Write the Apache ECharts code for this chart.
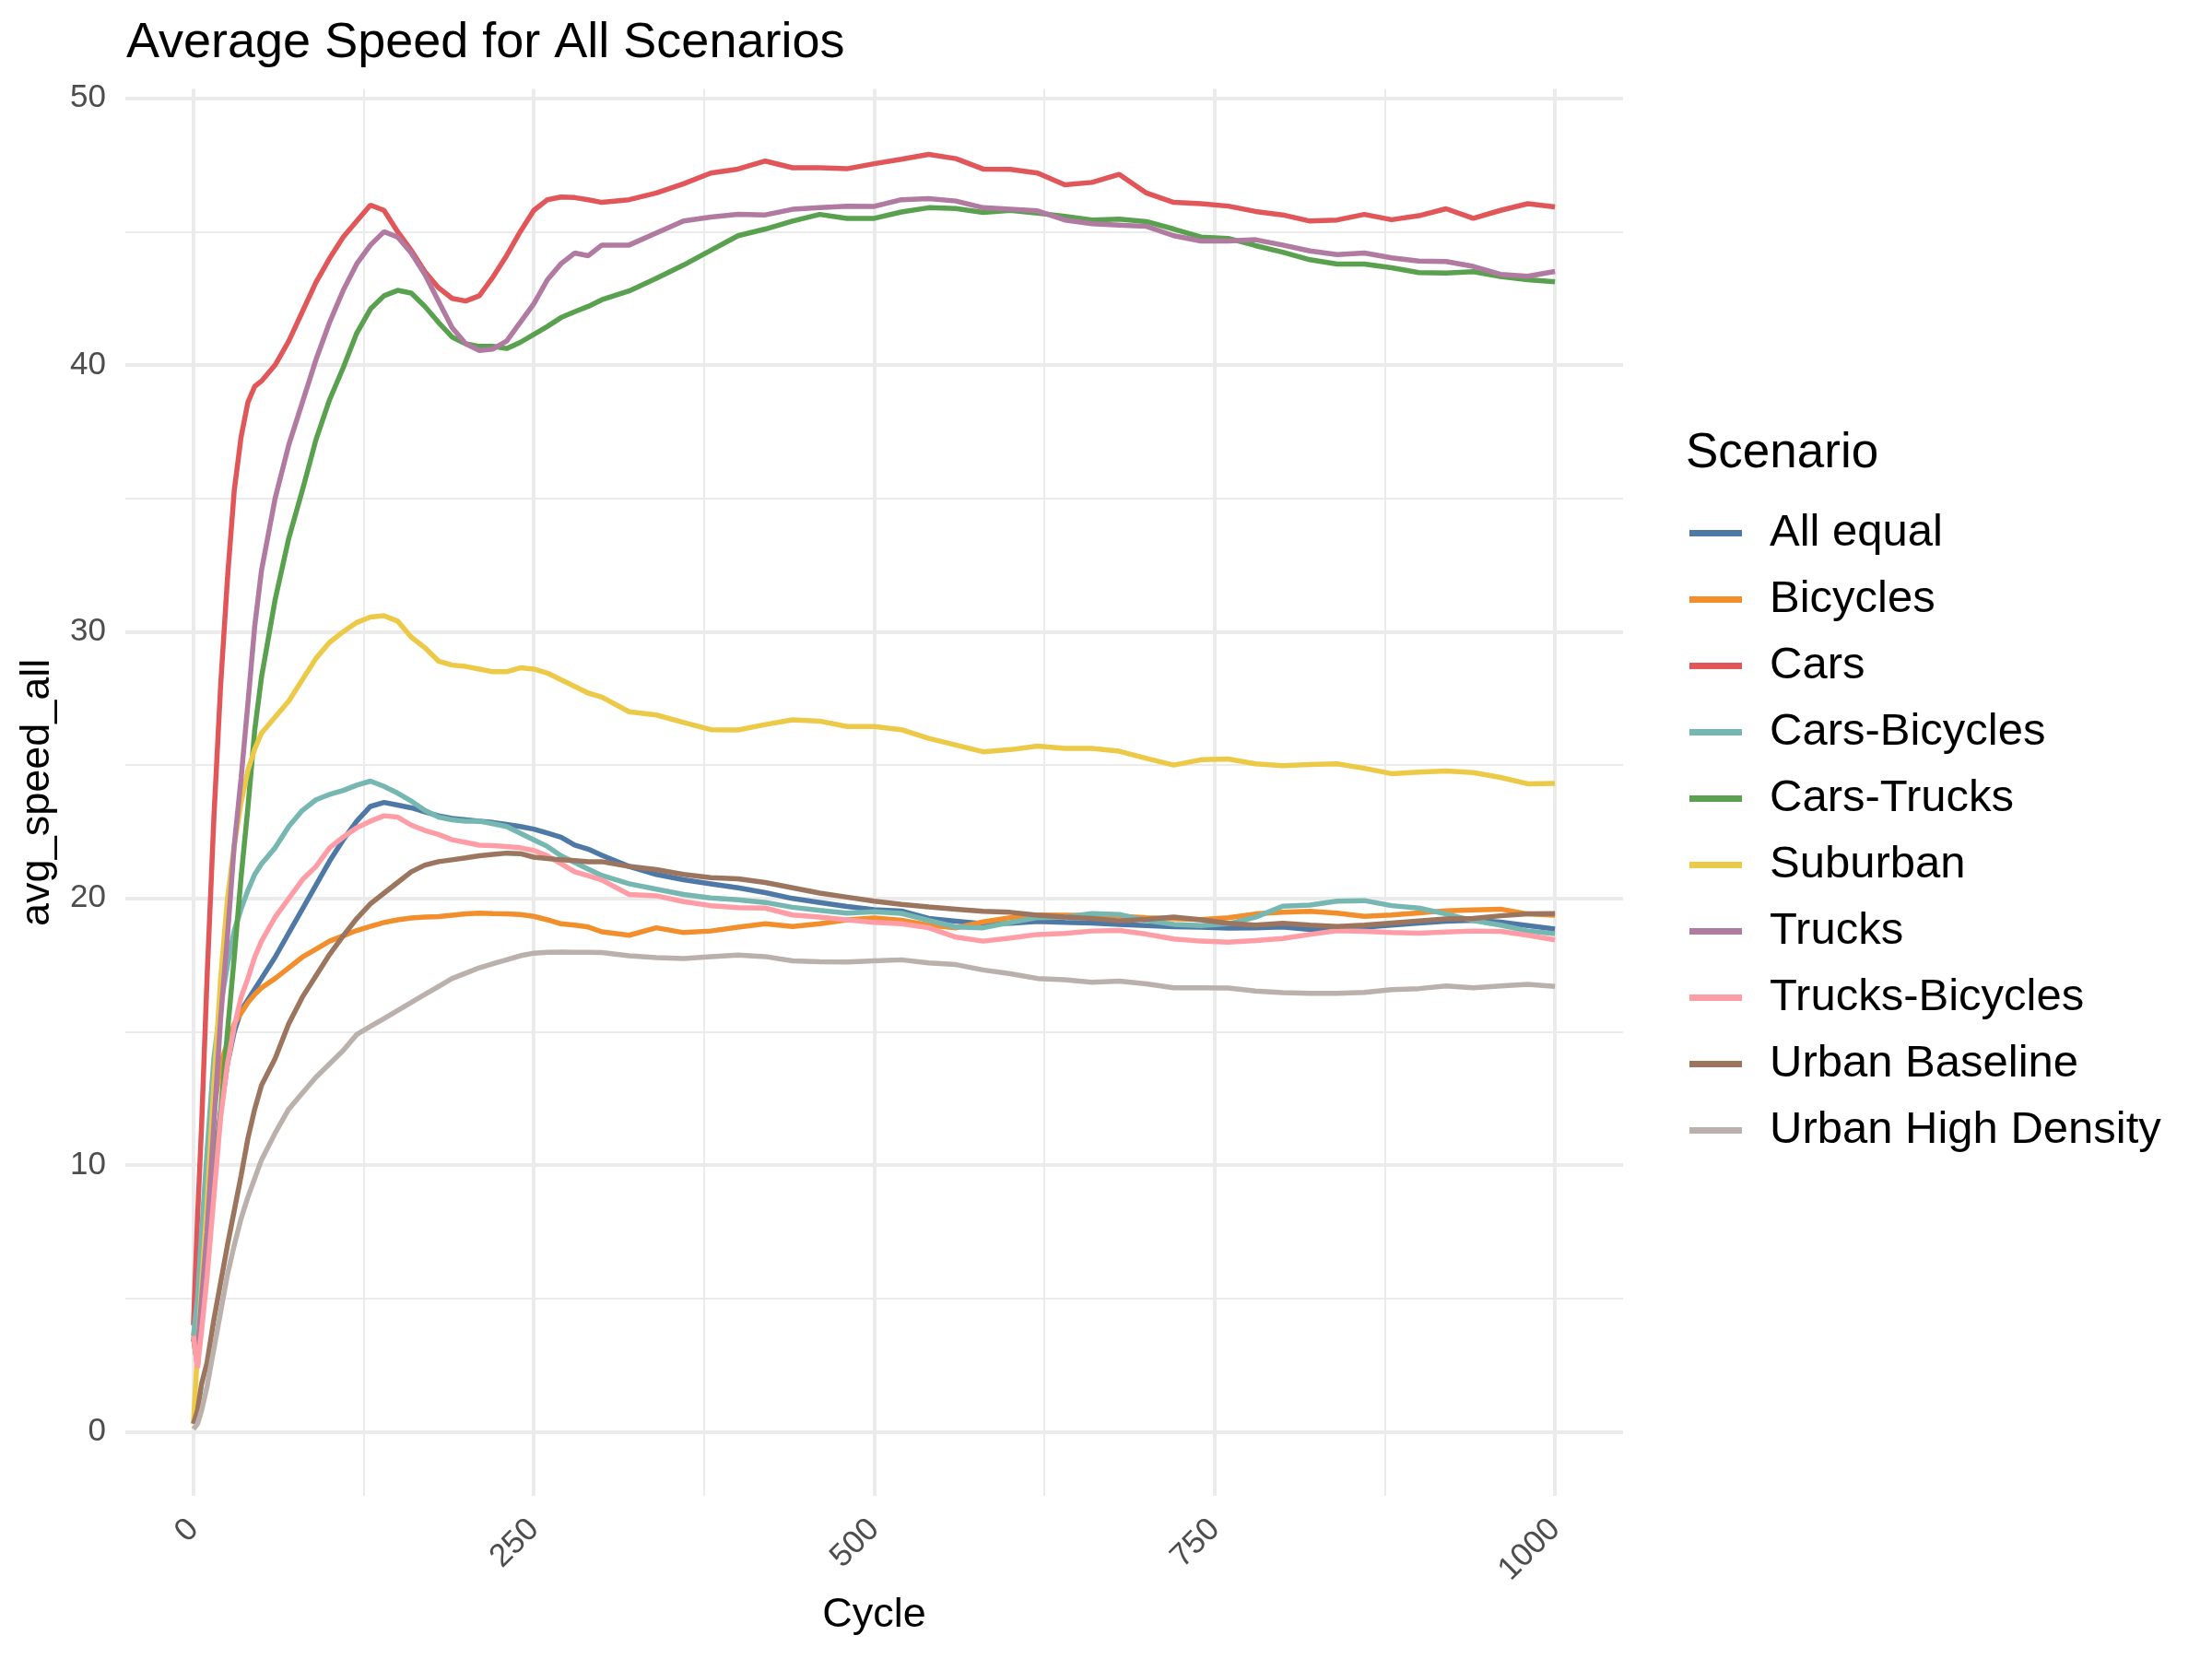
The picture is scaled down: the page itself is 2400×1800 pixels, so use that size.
<!DOCTYPE html>
<html>
<head>
<meta charset="utf-8">
<title>Average Speed for All Scenarios</title>
<script src="https://cdn.jsdelivr.net/npm/echarts@6/dist/echarts.min.js"></script>
<style>
  html, body { margin: 0; padding: 0; background: #fff; }
  #chart { width: 2400px; height: 1800px; }
</style>
</head>
<body>
<div id="chart"></div>
<script>
// sampled cycles shared by every scenario
const cycles = [0, 3, 6, 10, 15, 20, 25, 30, 35, 40, 45, 50, 60, 70, 80, 90, 100, 110, 120, 130,
  140, 150, 160, 170, 180, 190, 200, 210, 220, 230, 240, 250, 260, 270, 280, 290, 300, 320, 340, 360,
  380, 400, 420, 440, 460, 480, 500, 520, 540, 560, 580, 600, 620, 640, 660, 680, 700, 720, 740, 760,
  780, 800, 820, 840, 860, 880, 900, 920, 940, 960, 980, 1000];

const allEqual = [3.6, 4.0, 5.5, 7.5, 9.8, 12.0, 13.8, 15.0, 15.8, 16.2, 16.6, 17.0, 17.8, 18.7, 19.6, 20.5, 21.4, 22.2, 22.9, 23.45,
  23.6, 23.5, 23.4, 23.25, 23.1, 23.0, 22.95, 22.9, 22.85, 22.78, 22.7, 22.6, 22.45, 22.3, 22.0, 21.85, 21.62, 21.2, 20.9, 20.7,
  20.55, 20.4, 20.22, 20.0, 19.85, 19.7, 19.58, 19.53, 19.25, 19.15, 19.05, 19.07, 19.14, 19.1, 19.08, 19.03, 18.98, 18.94, 18.92, 18.89,
  18.9, 18.93, 18.84, 18.86, 18.92, 19.0, 19.08, 19.15, 19.18, 19.11, 18.98, 18.85];

const bicycles = [3.4, 4.5, 6.5, 9.0, 12.0, 13.8, 14.6, 15.3, 15.7, 16.1, 16.4, 16.65, 17.0, 17.4, 17.8, 18.1, 18.4, 18.6, 18.8, 18.95,
  19.1, 19.2, 19.27, 19.3, 19.32, 19.37, 19.42, 19.45, 19.43, 19.42, 19.4, 19.33, 19.2, 19.05, 19.0, 18.93, 18.75, 18.62, 18.9, 18.72,
  18.78, 18.92, 19.05, 18.95, 19.05, 19.2, 19.27, 19.18, 19.0, 18.9, 19.12, 19.28, 19.38, 19.37, 19.36, 19.34, 19.28, 19.24, 19.21, 19.28,
  19.42, 19.48, 19.52, 19.45, 19.33, 19.38, 19.46, 19.54, 19.57, 19.6, 19.42, 19.37];

const cars = [4.0, 8.0, 11.5, 17.0, 23.0, 28.0, 32.0, 35.3, 37.3, 38.6, 39.2, 39.4, 40.0, 40.9, 42.0, 43.1, 44.0, 44.8, 45.4, 46.0,
  45.8, 45.0, 44.3, 43.5, 42.9, 42.5, 42.4, 42.6, 43.3, 44.1, 45.0, 45.8, 46.2, 46.3, 46.28, 46.2, 46.1, 46.2, 46.45, 46.8,
  47.2, 47.35, 47.65, 47.4, 47.4, 47.36, 47.55, 47.72, 47.9, 47.74, 47.35, 47.34, 47.2, 46.76, 46.85, 47.15, 46.45, 46.1, 46.05, 45.96,
  45.76, 45.63, 45.4, 45.44, 45.65, 45.45, 45.6, 45.86, 45.5, 45.8, 46.05, 45.93];

const carsBicycles = [3.6, 5.0, 7.5, 10.5, 14.0, 16.0, 17.5, 18.8, 19.6, 20.3, 20.9, 21.3, 21.9, 22.7, 23.3, 23.7, 23.9, 24.05, 24.25, 24.4,
  24.2, 23.95, 23.65, 23.3, 23.05, 22.95, 22.9, 22.9, 22.8, 22.7, 22.45, 22.2, 21.95, 21.6, 21.35, 21.1, 20.86, 20.55, 20.35, 20.15,
  20.02, 19.95, 19.85, 19.67, 19.55, 19.45, 19.5, 19.44, 19.18, 18.93, 18.9, 19.1, 19.28, 19.3, 19.43, 19.4, 19.17, 19.03, 18.98, 19.05,
  19.3, 19.71, 19.75, 19.9, 19.92, 19.73, 19.64, 19.42, 19.17, 19.0, 18.78, 18.68];

const carsTrucks = [3.5, 2.5, 4.5, 6.5, 9.5, 12.0, 15.0, 17.8, 20.8, 23.4, 26.3, 28.3, 31.2, 33.5, 35.3, 37.2, 38.7, 39.9, 41.2, 42.1,
  42.6, 42.8, 42.7, 42.2, 41.6, 41.05, 40.8, 40.7, 40.7, 40.62, 40.85, 41.15, 41.45, 41.78, 42.0, 42.2, 42.45, 42.78, 43.25, 43.75,
  44.3, 44.85, 45.1, 45.4, 45.65, 45.5, 45.5, 45.74, 45.9, 45.87, 45.72, 45.8, 45.7, 45.58, 45.44, 45.47, 45.38, 45.1, 44.8, 44.75,
  44.48, 44.23, 43.95, 43.79, 43.79, 43.65, 43.47, 43.45, 43.5, 43.32, 43.2, 43.12];

const suburban = [0.3, 3.0, 5.5, 8.5, 13.0, 17.0, 20.0, 22.0, 23.6, 24.8, 25.6, 26.2, 26.8, 27.4, 28.2, 29.0, 29.6, 30.0, 30.35, 30.55,
  30.6, 30.4, 29.8, 29.4, 28.9, 28.75, 28.7, 28.6, 28.5, 28.5, 28.65, 28.6, 28.45, 28.2, 27.95, 27.7, 27.55, 27.0, 26.88, 26.6,
  26.33, 26.32, 26.52, 26.7, 26.65, 26.45, 26.45, 26.33, 26.0, 25.75, 25.5, 25.58, 25.71, 25.63, 25.63, 25.52, 25.25, 25.0, 25.2, 25.23,
  25.05, 24.98, 25.02, 25.05, 24.88, 24.68, 24.74, 24.78, 24.72, 24.54, 24.3, 24.31];

const trucks = [3.5, 3.0, 5.0, 7.5, 11.5, 15.5, 18.6, 22.0, 24.5, 27.3, 30.2, 32.3, 35.0, 37.0, 38.6, 40.2, 41.6, 42.8, 43.8, 44.5,
  45.0, 44.8, 44.2, 43.4, 42.4, 41.4, 40.8, 40.55, 40.6, 40.9, 41.6, 42.3, 43.2, 43.8, 44.2, 44.1, 44.5, 44.5, 44.95, 45.4,
  45.55, 45.65, 45.63, 45.84, 45.9, 45.96, 45.95, 46.2, 46.24, 46.15, 45.9, 45.84, 45.78, 45.44, 45.3, 45.25, 45.2, 44.85, 44.65, 44.65,
  44.7, 44.5, 44.28, 44.14, 44.2, 44.02, 43.9, 43.88, 43.7, 43.4, 43.33, 43.51];

const trucksBicycles = [3.6, 2.4, 3.8, 5.8, 8.8, 11.8, 13.8, 15.2, 16.3, 17.0, 17.8, 18.4, 19.3, 20.0, 20.7, 21.2, 21.9, 22.3, 22.65, 22.9,
  23.1, 23.05, 22.75, 22.55, 22.4, 22.2, 22.1, 22.0, 21.98, 21.95, 21.9, 21.8, 21.6, 21.3, 21.0, 20.85, 20.69, 20.15, 20.1, 19.88,
  19.73, 19.66, 19.64, 19.38, 19.3, 19.2, 19.1, 19.05, 18.9, 18.55, 18.4, 18.52, 18.65, 18.69, 18.78, 18.8, 18.66, 18.48, 18.4, 18.36,
  18.42, 18.5, 18.65, 18.79, 18.77, 18.72, 18.7, 18.74, 18.78, 18.77, 18.62, 18.45];

const urbanBaseline = [0.3, 0.8, 1.8, 2.6, 4.2, 5.6, 7.0, 8.3, 9.6, 11.0, 12.1, 13.0, 14.0, 15.3, 16.3, 17.1, 17.9, 18.6, 19.25, 19.8,
  20.2, 20.6, 21.0, 21.25, 21.38, 21.45, 21.52, 21.6, 21.65, 21.7, 21.68, 21.55, 21.5, 21.45, 21.42, 21.38, 21.38, 21.2, 21.08, 20.9,
  20.78, 20.74, 20.6, 20.4, 20.2, 20.05, 19.9, 19.78, 19.68, 19.6, 19.52, 19.48, 19.37, 19.3, 19.25, 19.16, 19.22, 19.3, 19.2, 19.07,
  19.0, 19.07, 19.0, 18.95, 19.0, 19.08, 19.16, 19.23, 19.25, 19.35, 19.42, 19.43];

const urbanHighDensity = [0.1, 0.3, 0.8, 1.7, 3.1, 4.5, 5.9, 7.0, 8.0, 8.8, 9.5, 10.2, 11.2, 12.1, 12.7, 13.3, 13.8, 14.3, 14.9, 15.2,
  15.5, 15.8, 16.1, 16.4, 16.7, 17.0, 17.2, 17.4, 17.55, 17.7, 17.85, 17.95, 17.98, 17.99, 17.98, 17.98, 17.97, 17.85, 17.78, 17.75,
  17.82, 17.88, 17.82, 17.66, 17.63, 17.62, 17.66, 17.7, 17.58, 17.52, 17.32, 17.18, 17.0, 16.95, 16.86, 16.9, 16.8, 16.65, 16.65, 16.64,
  16.53, 16.47, 16.44, 16.44, 16.48, 16.58, 16.62, 16.72, 16.65, 16.72, 16.78, 16.7];

const scenarioNames = ["All equal", "Bicycles", "Cars", "Cars-Bicycles", "Cars-Trucks",
  "Suburban", "Trucks", "Trucks-Bicycles", "Urban Baseline", "Urban High Density"];
const scenarioValues = [allEqual, bicycles, cars, carsBicycles, carsTrucks,
  suburban, trucks, trucksBicycles, urbanBaseline, urbanHighDensity];
const scenarioColors = ["#4E79A7", "#F28E2B", "#E15759", "#76B7B2", "#59A14F",
  "#EDC948", "#B07AA1", "#FF9DA7", "#9C755F", "#BAB0AC"];

const xMajorTicks = [0, 250, 500, 750, 1000];
const xMinorTicks = [125, 375, 625, 875];
const yMajorTicks = [0, 10, 20, 30, 40, 50];
const yMinorTicks = [5, 15, 25, 35, 45];

const FONT = "Liberation Sans";
const GRID_COLOR = "#EBEBEB";

function buildSeries() {
  return scenarioNames.map((name, idx) => ({
    name: name,
    type: "line",
    xAxisIndex: 0,
    yAxisIndex: 0,
    showSymbol: false,
    symbol: "none",
    color: scenarioColors[idx],
    lineStyle: { width: 5.5, color: scenarioColors[idx] },
    data: cycles.map((c, i) => [c, scenarioValues[idx][i]]),
  }));
}

function minorAxis(ticks, min, max) {
  return {
    type: "value",
    min: min,
    max: max,
    axisLine: { show: false },
    axisLabel: { show: false },
    axisTick: { show: false, customValues: ticks },
    splitLine: { show: true, lineStyle: { color: GRID_COLOR, width: 2 } },
  };
}

const chart = echarts.init(document.getElementById("chart"), null, { renderer: "canvas" });

const option = {
  animation: false,
  backgroundColor: "#fff",
  textStyle: { fontFamily: FONT },
  title: [
    {
      text: "Average Speed for All Scenarios",
      left: 137,
      top: 20,
      padding: 0,
      textStyle: { fontFamily: FONT, fontSize: 54, fontWeight: "normal", color: "#000" },
    },
    {
      text: "Scenario",
      left: 1829,
      top: 466,
      padding: 0,
      textStyle: { fontFamily: FONT, fontSize: 53, fontWeight: "normal", color: "#000" },
    },
  ],
  legend: {
    orient: "vertical",
    left: 1833,
    top: 554,
    padding: 0,
    icon: "rect",
    itemWidth: 57,
    itemHeight: 7,
    itemGap: 23,
    data: scenarioNames,
    textStyle: { fontFamily: FONT, fontSize: 49, lineHeight: 49, color: "#000", padding: [0, 0, 0, 25] },
  },
  grid: { left: 136, right: 639, top: 96.6, bottom: 177, containLabel: false },
  xAxis: [
    {
      type: "value",
      min: -50,
      max: 1050,
      name: "Cycle",
      nameLocation: "middle",
      nameGap: 107,
      nameTextStyle: { fontFamily: FONT, fontSize: 45, color: "#000" },
      axisLine: { show: false },
      axisTick: { show: false, customValues: xMajorTicks },
      axisLabel: {
        customValues: xMajorTicks,
        formatter: (value) => String(value),
        rotate: 45,
        margin: 31,
        fontFamily: FONT,
        fontSize: 35,
        color: "#4D4D4D",
      },
      splitLine: { show: true, lineStyle: { color: GRID_COLOR, width: 4 } },
    },
    minorAxis(xMinorTicks, -50, 1050),
  ],
  yAxis: [
    {
      type: "value",
      min: -2.4,
      max: 50.35,
      name: "avg_speed_all",
      nameLocation: "middle",
      nameRotate: 90,
      nameGap: 73,
      nameTextStyle: { fontFamily: FONT, fontSize: 45, color: "#000" },
      axisLine: { show: false },
      axisTick: { show: false, customValues: yMajorTicks },
      axisLabel: {
        customValues: yMajorTicks,
        formatter: (value) => String(value),
        margin: 21,
        fontFamily: FONT,
        fontSize: 35,
        color: "#4D4D4D",
      },
      splitLine: { show: true, lineStyle: { color: GRID_COLOR, width: 4 } },
    },
    minorAxis(yMinorTicks, -2.4, 50.35),
  ],
  series: buildSeries(),
};

chart.setOption(option);
</script>
</body>
</html>
